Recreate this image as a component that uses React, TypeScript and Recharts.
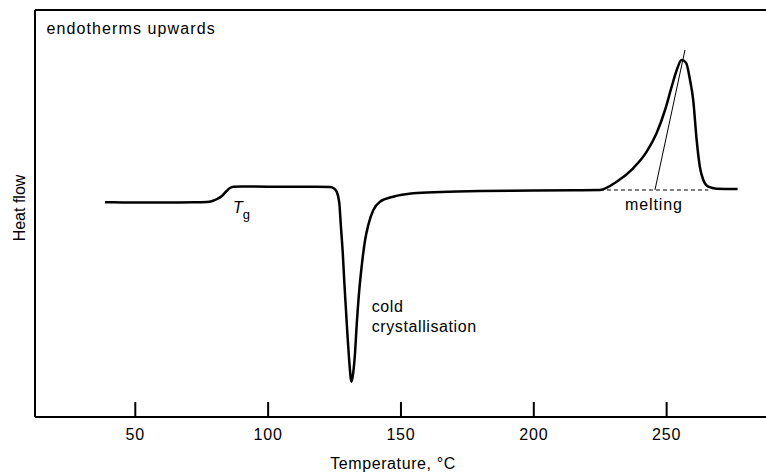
import React from 'react';
import { LineChart, Line, XAxis, YAxis, ReferenceLine, ReferenceDot } from 'recharts';

// Temperature (°C) and heat flow (arbitrary units, endotherms upwards)
const temperature = [
  38.6, 45, 55, 65, 72, 76.9, 79.0, 80.8, 82.6, 84.2, 85.6, 87, 90, 100, 110, 118,
  123.3, 124.8, 125.8, 126.8, 127.4, 128.1, 128.7, 129.3, 129.9, 130.5, 131.2, 131.4,
  132.0, 132.7, 133.3, 134.2, 135.2, 136.5, 137.7, 139.6, 142.1, 147.1, 154.6, 165,
  180, 200, 215, 224.9, 231.2, 237.4, 242.5, 246.2, 249.4, 251.9, 253.8, 255.6, 257.3,
  258.8, 260.0, 261.3, 262.5, 263.8, 265.7, 268.8, 276.7,
];
const heatFlow = [
  21.47, 21.46, 21.45, 21.46, 21.47, 21.5, 21.6, 21.8, 22.1, 22.55, 22.9, 23.03, 23.05, 23.03, 23.02, 23.02,
  23.0, 22.85, 22.53, 21.37, 19.03, 16.37, 13.37, 10.7, 8.03, 5.7, 3.7, 3.53,
  4.37, 6.37, 9.03, 12.37, 15.03, 17.7, 19.2, 20.7, 21.53, 22.03, 22.37, 22.5,
  22.6, 22.65, 22.68, 22.7, 23.53, 24.87, 26.53, 28.37, 30.7, 33.03, 34.7, 35.7, 35.43,
  33.7, 31.7, 27.7, 25.03, 23.7, 23.03, 22.83, 22.8,
];

// melting construction lines
const tangentT = [245.6, 256.9];
const tangentHF = [22.7, 36.7];
const baselineT = [224.9, 265.7];
const baselineHF = [22.7, 22.7];

const xTicks = [50, 100, 150, 200, 250];
const xDomain = [12.25, 287.4];
const yDomain = [0, 40.7];

const data = temperature.map((t, i) => ({ t, hf: heatFlow[i] }));

const FONT = '"Liberation Sans", Arial, Helvetica, sans-serif';

const Tick = (props: any) => {
  const { x, y, payload } = props;
  return (
    <g>
      <line x1={x} y1={y} x2={x} y2={y - 15} stroke="#000" strokeWidth={2} />
      <text x={x} y={y + 23} textAnchor="middle" fontSize={16} fontFamily={FONT} fill="#000" letterSpacing={0.8}>
        {payload.value}
      </text>
    </g>
  );
};

const textShape = (content: React.ReactNode, anchor: string = 'start', rotate = false, extra: any = {}) =>
  (p: any) => (
    <text
      x={p.cx}
      y={p.cy}
      textAnchor={anchor as any}
      fontSize={16}
      fontFamily={FONT}
      fill="#000"
      transform={rotate ? `rotate(-90 ${p.cx} ${p.cy})` : undefined}
      {...extra}
    >
      {content}
    </text>
  );

export default function App() {
  return (
    <div style={{ position: 'absolute', left: 0, top: 0, width: 766, height: 472, background: '#fff' }}>
      <LineChart width={766} height={472} data={data} margin={{ top: 10, right: 0, left: 35, bottom: 0 }}>
        <XAxis
          type="number"
          dataKey="t"
          domain={xDomain}
          ticks={xTicks}
          allowDataOverflow
          height={55}
          axisLine={{ stroke: '#000', strokeWidth: 2 }}
          tickLine={false}
          tickSize={0}
          tickMargin={0}
          tick={<Tick />}
        />
        <YAxis type="number" domain={yDomain} hide allowDataOverflow />
        <ReferenceLine x={xDomain[0]} stroke="#000" strokeWidth={2} />
        <ReferenceLine y={yDomain[1]} stroke="#000" strokeWidth={2} />
        <ReferenceLine
          segment={[{ x: baselineT[0], y: baselineHF[0] }, { x: baselineT[1], y: baselineHF[1] }]}
          stroke="#000"
          strokeWidth={1}
          strokeDasharray="4 3"
        />
        <ReferenceLine
          segment={[{ x: tangentT[0], y: tangentHF[0] }, { x: tangentT[1], y: tangentHF[1] }]}
          stroke="#000"
          strokeWidth={1}
        />
        <Line
          type="monotone"
          dataKey="hf"
          stroke="#000"
          strokeWidth={2.5}
          dot={false}
          isAnimationActive={false}
        />
        <ReferenceDot x={16.6} y={38.3} r={0} ifOverflow="visible"
          shape={textShape('endotherms upwards', 'start', false, { letterSpacing: 1.1 })} />
        <ReferenceDot x={86.8} y={20.4} r={0} ifOverflow="visible"
          shape={textShape(
            <>
              <tspan fontStyle="italic">T</tspan>
              <tspan fontSize={13} dy={6}>g</tspan>
            </>
          )} />
        <ReferenceDot x={139.0} y={10.53} r={0} ifOverflow="visible"
          shape={textShape('cold', 'start', false, { letterSpacing: 0.6 })} />
        <ReferenceDot x={139.0} y={8.53} r={0} ifOverflow="visible"
          shape={textShape('crystallisation', 'start', false, { letterSpacing: 0.6 })} />
        <ReferenceDot x={245.2} y={20.7} r={0} ifOverflow="visible"
          shape={textShape('melting', 'middle', false, { letterSpacing: 0.9 })} />
        <ReferenceDot x={147} y={-5.15} r={0} ifOverflow="visible"
          shape={textShape('Temperature, °C', 'middle', false, { letterSpacing: 0.6 })} />
        <ReferenceDot x={8.6} y={20.9} r={0} ifOverflow="visible"
          shape={textShape('Heat flow', 'middle', true)} />
      </LineChart>
    </div>
  );
}
